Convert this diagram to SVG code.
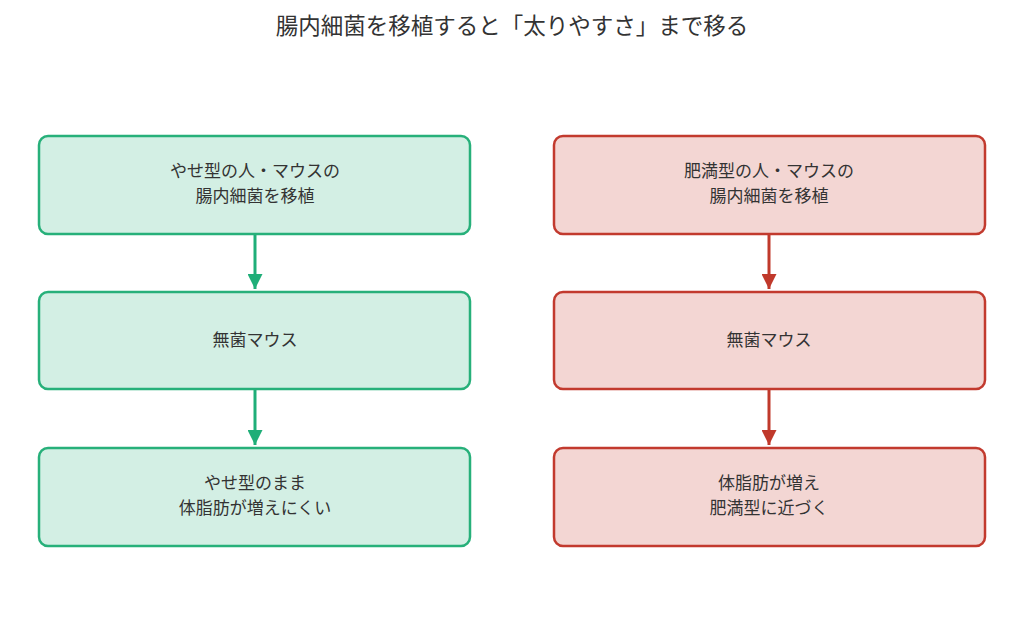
<svg xmlns="http://www.w3.org/2000/svg" width="1024" height="626" viewBox="0 0 1024 626">
<style>
text{font-family:"Noto Sans CJK JP","Noto Sans",sans-serif;fill:#333;text-anchor:middle}
.t{font-size:22.5px}
.l{font-size:17px}
.g{fill:#d3efe4;stroke:#27b07a;stroke-width:2.5}
.r{fill:#f3d6d3;stroke:#c23a2e;stroke-width:2.5}
.cg{stroke:#1fae78;stroke-width:3;fill:none}
.cr{stroke:#c0392b;stroke-width:3;fill:none}
</style>
<defs>
<marker id="ag" viewBox="0 0 10 10" refX="10" refY="5" markerWidth="5" markerHeight="5" orient="auto" markerUnits="strokeWidth"><path d="M0,0L10,5L0,10z" fill="#1fae78"/></marker>
<marker id="ar" viewBox="0 0 10 10" refX="10" refY="5" markerWidth="5" markerHeight="5" orient="auto" markerUnits="strokeWidth"><path d="M0,0L10,5L0,10z" fill="#c0392b"/></marker>
</defs>
<rect width="1024" height="626" fill="#fff"/>
<text class="t" x="512" y="34">腸内細菌を移植すると「太りやすさ」まで移る</text>
<g id="connectors">
<path class="cg" d="M255,235V289" marker-end="url(#ag)"/>
<path class="cg" d="M255,390V445" marker-end="url(#ag)"/>
<path class="cr" d="M769,235V289" marker-end="url(#ar)"/>
<path class="cr" d="M769,390V445" marker-end="url(#ar)"/>
</g>
<g id="lean1"><rect class="g" x="39" y="136" width="431" height="98" rx="9"/><text class="l" x="255" y="177">やせ型の人・マウスの</text><text class="l" x="255" y="202">腸内細菌を移植</text></g>
<g id="lean2"><rect class="g" x="39" y="292" width="431" height="97" rx="9"/><text class="l" x="255" y="346">無菌マウス</text></g>
<g id="lean3"><rect class="g" x="39" y="448" width="431" height="98" rx="9"/><text class="l" x="255" y="489">やせ型のまま</text><text class="l" x="255" y="514">体脂肪が増えにくい</text></g>
<g id="obese1"><rect class="r" x="554" y="136" width="431" height="98" rx="9"/><text class="l" x="769" y="177">肥満型の人・マウスの</text><text class="l" x="769" y="202">腸内細菌を移植</text></g>
<g id="obese2"><rect class="r" x="554" y="292" width="431" height="97" rx="9"/><text class="l" x="769" y="346">無菌マウス</text></g>
<g id="obese3"><rect class="r" x="554" y="448" width="431" height="98" rx="9"/><text class="l" x="769" y="489">体脂肪が増え</text><text class="l" x="769" y="514">肥満型に近づく</text></g>
</svg>
